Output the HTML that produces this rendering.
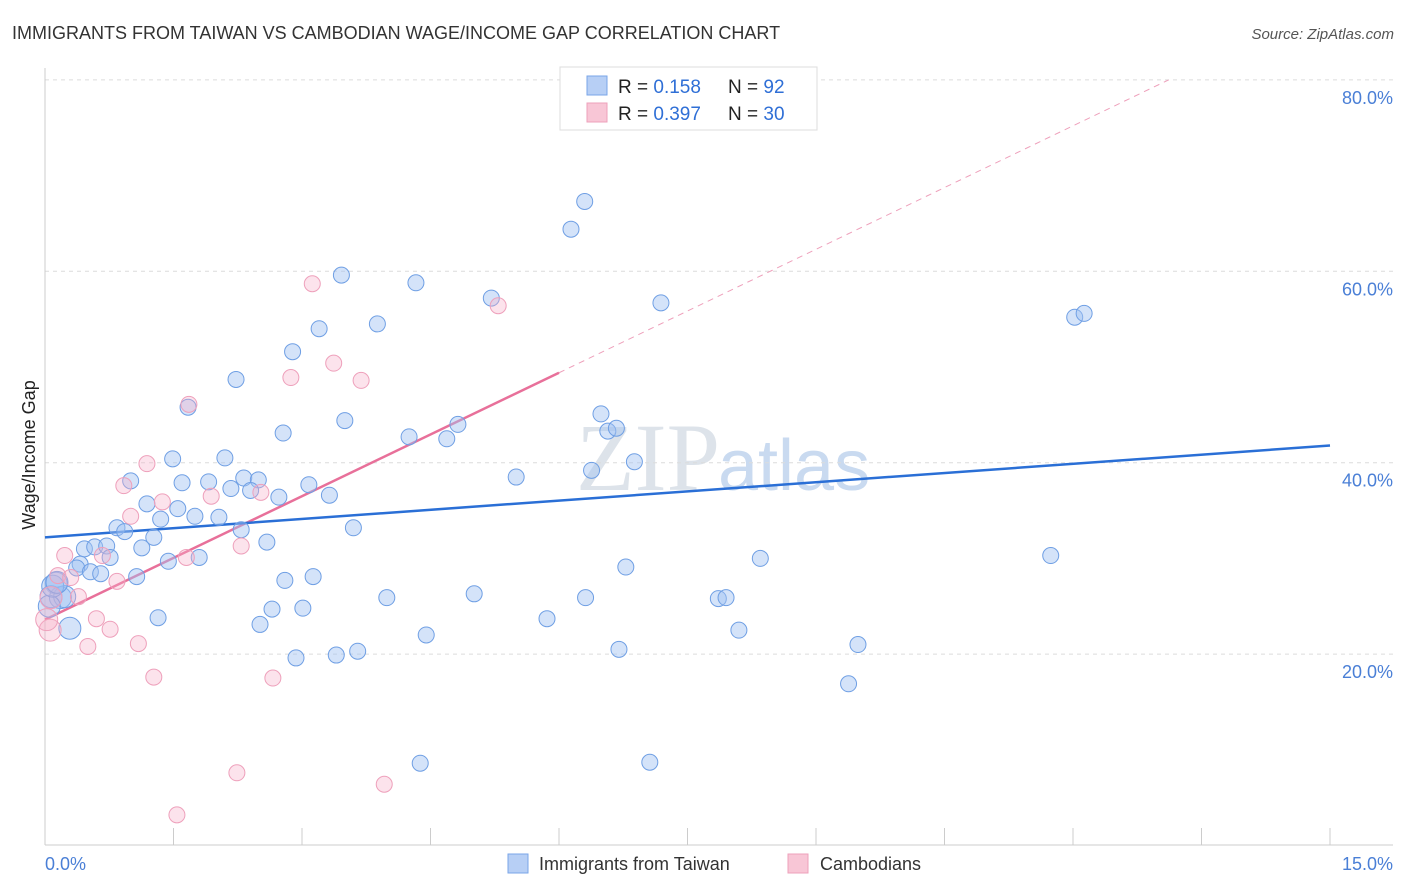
<!DOCTYPE html>
<html><head><meta charset="utf-8"><style>
body{margin:0;background:#fff;font-family:"Liberation Sans",sans-serif}
svg{display:block}
</style></head><body>
<svg id="chart" width="1406" height="892" viewBox="0 0 1406 892">
<text x="12" y="39" font-size="18" fill="#333">IMMIGRANTS FROM TAIWAN VS CAMBODIAN WAGE/INCOME GAP CORRELATION CHART</text>
<text x="1394" y="39" font-size="15" fill="#555" font-style="italic" text-anchor="end">Source: ZipAtlas.com</text>
<text x="720" y="490" font-size="96" fill="#dde3ea" text-anchor="end" font-family="Liberation Serif,serif">ZIP</text>
<text x="718" y="490" font-size="72" fill="#c9daf0">atlas</text>
<g id="grid"></g><g id="axes"></g><g id="lines"></g><g id="pts"></g>
<text x="35" y="455" font-size="18" fill="#222" transform="rotate(-90 35 455)" text-anchor="middle">Wage/Income Gap</text>
<text x="45" y="870" font-size="18" fill="#4a7fd6">0.0%</text>
<text x="1393" y="870" font-size="18" fill="#4a7fd6" text-anchor="end">15.0%</text>
<g>
<rect x="560" y="67" width="257" height="63" fill="#fff" stroke="#ddd"/>
<rect x="587" y="76" width="20" height="19" fill="#b7cff5" stroke="#7aa6e8"/>
<text x="618" y="93" font-size="19" fill="#222">R = <tspan fill="#2f6fd6">0.158</tspan></text>
<text x="728" y="93" font-size="19" fill="#222">N = <tspan fill="#2f6fd6">92</tspan></text>
<rect x="587" y="103" width="20" height="19" fill="#f8c6d6" stroke="#eea0bb"/>
<text x="618" y="120" font-size="19" fill="#222">R = <tspan fill="#2f6fd6">0.397</tspan></text>
<text x="728" y="120" font-size="19" fill="#222">N = <tspan fill="#2f6fd6">30</tspan></text>
</g>
<g><rect x="508" y="854" width="20" height="19" fill="#b7cff5" stroke="#7aa6e8"/><text x="539" y="870" font-size="18" fill="#333">Immigrants from Taiwan</text></g>
<g><rect x="788" y="854" width="20" height="19" fill="#f8c6d6" stroke="#eea0bb"/><text x="820" y="870" font-size="18" fill="#333">Cambodians</text></g>
</svg>
<script>
const yTicks=[20,40,60,80];
const yTickLabels=["20.0%","40.0%","60.0%","80.0%"];
const xTicks=[0,1.5,3,4.5,6,7.5,9,10.5,12,13.5,15];
const blueX=[6.30,6.14,3.46,4.33,5.21,7.19,12.02,12.13,3.88,3.20,2.89,2.23,1.67,6.49,6.57,6.67,4.82,3.50,2.78,4.25,4.69,1.49,2.10,6.88,6.38,5.50,1.00,1.60,1.91,2.32,2.49,2.17,2.40,2.73,3.08,3.32,1.19,1.55,1.35,1.75,2.03,0.84,0.93,2.29,3.60,1.27,1.13,0.46,0.58,0.72,0.76,1.80,1.44,2.59,0.41,0.37,0.53,0.65,1.07,2.80,3.13,6.78,8.35,11.74,0.13,0.07,0.18,0.23,3.99,5.01,6.31,7.86,7.95,2.65,3.01,1.32,5.86,2.51,0.29,4.45,8.10,9.49,6.70,3.65,3.40,2.93,9.38,4.38,7.06,0.05,0.09,0.14];
const blueY=[67.3,64.4,59.6,58.8,57.2,56.7,55.2,55.6,54.5,54.0,51.6,48.7,45.8,45.1,43.3,43.6,44.0,44.4,43.1,42.7,42.5,40.4,40.5,40.1,39.2,38.5,38.1,37.9,38.0,38.4,38.2,37.3,37.1,36.4,37.7,36.6,35.7,35.2,34.1,34.4,34.3,33.2,32.8,33.0,33.2,32.2,31.1,31.0,31.2,31.3,30.1,30.1,29.7,31.7,29.4,29.0,28.6,28.4,28.1,27.7,28.1,29.1,30.0,30.3,27.4,26.0,25.9,26.0,25.9,26.3,25.9,25.8,25.9,24.7,24.8,23.8,23.7,23.1,22.7,22.0,22.5,21.0,20.5,20.3,19.9,19.6,16.9,8.6,8.7,25.0,27.1,27.5];
const pinkX=[3.12,5.29,3.37,2.87,3.69,1.68,1.19,0.92,1.94,1.37,2.52,1.00,2.29,0.23,0.67,1.65,0.15,0.30,0.84,0.39,0.07,0.60,0.76,1.09,0.50,0.06,1.27,2.66,2.24,3.96,1.54,0.02];
const pinkY=[58.7,56.4,50.4,48.9,48.6,46.1,39.9,37.6,36.5,35.9,36.9,34.4,31.3,30.3,30.3,30.1,28.2,28.0,27.6,26.0,25.9,23.7,22.6,21.1,20.8,22.5,17.6,17.5,7.6,6.4,3.2,23.6];
const blueTrend=[32.2,41.8];
const pinkTrend=[23.6,49.4];
const pinkTrendEndX=6;

const X0=45,X1=1330,Y0=845.5,YS=9.57;
const sx=v=>X0+v*(X1-X0)/15;
const sy=v=>Y0-v*YS;
const NS="http://www.w3.org/2000/svg";
function mk(tag,attrs,parent){const e=document.createElementNS(NS,tag);for(const k in attrs)e.setAttribute(k,attrs[k]);document.getElementById(parent).appendChild(e);return e;}
yTicks.forEach((t,i)=>{
  const l=mk('line',{x1:45,x2:1393,y1:sy(t),y2:sy(t),stroke:'#dcdcdc','stroke-dasharray':'4,4'},'grid');
  
  
  const tx=mk('text',{x:1393,y:sy(t)+24,'font-size':18,fill:'#4a7fd6','text-anchor':'end'},'grid');
  tx.textContent=yTickLabels[i];
  
  
});
const ax=mk('line',{x1:45,x2:45,y1:68,y2:845,stroke:'#ccc'},'axes');


const bx=mk('line',{x1:45,x2:1393,y1:845,y2:845,stroke:'#ccc'},'axes');


xTicks.forEach(t=>{
  const l=mk('line',{x1:sx(t),x2:sx(t),y1:828,y2:845,stroke:'#ccc'},'axes');
  
  
});
const slope=(pinkTrend[1]-pinkTrend[0])/pinkTrendEndX;
const xEnd=(80-pinkTrend[0])/slope;
const pd=mk('line',{x1:sx(pinkTrendEndX),y1:sy(pinkTrend[1]),x2:sx(xEnd),y2:sy(80),stroke:'#eea0bb','stroke-dasharray':'6,5','stroke-width':1},'lines');


const ps=mk('line',{x1:sx(0),y1:sy(pinkTrend[0]),x2:sx(pinkTrendEndX),y2:sy(pinkTrend[1]),stroke:'#e8709a','stroke-width':2.5},'lines');


const bl=mk('line',{x1:sx(0),y1:sy(blueTrend[0]),x2:sx(15),y2:sy(blueTrend[1]),stroke:'#2a6fd6','stroke-width':2.5},'lines');


blueX.forEach((v,i)=>{
  const c=mk('circle',{cx:sx(v),cy:sy(blueY[i]),r:(v<0.3?11:8),fill:'rgba(160,192,242,0.45)',stroke:'#6f9fe4','stroke-width':1},'pts');
  
  
});
pinkX.forEach((v,i)=>{
  const c=mk('circle',{cx:sx(v),cy:sy(pinkY[i]),r:(v<0.1?11:8),fill:'rgba(246,176,200,0.35)',stroke:'#eea0bb','stroke-width':1},'pts');
  
  
});
</script>
</body></html>
